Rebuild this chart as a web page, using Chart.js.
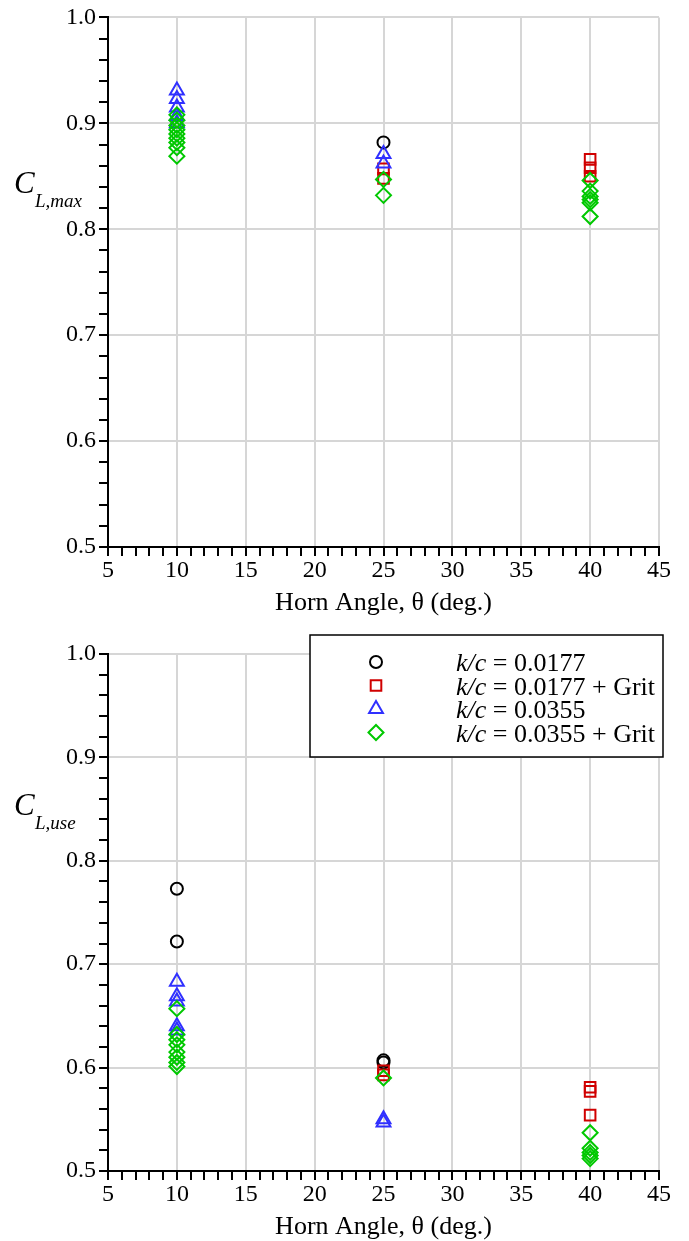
<!DOCTYPE html>
<html>
<head>
<meta charset="utf-8">
<script src="https://cdn.jsdelivr.net/npm/chart.js@4.4.0/dist/chart.umd.min.js"></script>
<style>
  body { margin: 0; background: #fff; }
  .box { position: absolute; left: 0; width: 689px; }
</style>
</head>
<body>
<div class="box" style="top:0;height:620px"><canvas id="chartMax" width="689" height="620"></canvas></div>
<div class="box" style="top:620px;height:621px"><canvas id="chartUse" width="689" height="621"></canvas></div>
<script>
// series labels (legend)
const seriesKc = ['0.0177', '0.0177 + Grit', '0.0355', '0.0355 + Grit'];
const seriesColors = ['#000000', '#d00000', '#3030ff', '#00c800'];
const seriesStyles = ['circle', 'rect', 'triangle', 'rectRot'];
const seriesRadius = [6, 7.5, 8, 7.5];

// x = horn angle (deg), y = coefficient
// C_L,max
const maxKc0177 = [[25, 0.882]];
const maxKc0177Grit = [[25, 0.857], [25, 0.848], [40, 0.866], [40, 0.858], [40, 0.850]];
const maxKc0355 = [[10, 0.931], [10, 0.923], [10, 0.915], [10, 0.907], [10, 0.900], [25, 0.871], [25, 0.862]];
const maxKc0355Grit = [[10, 0.908], [10, 0.903], [10, 0.898], [10, 0.894], [10, 0.890], [10, 0.886], [10, 0.882], [10, 0.877], [10, 0.869],
                       [25, 0.847], [25, 0.832], [40, 0.846], [40, 0.836], [40, 0.831], [40, 0.828], [40, 0.825], [40, 0.812]];
// C_L,use
const useKc0177 = [[10, 0.773], [10, 0.722], [25, 0.607], [25, 0.605]];
const useKc0177Grit = [[25, 0.597], [25, 0.593], [40, 0.581], [40, 0.577], [40, 0.554]];
const useKc0355 = [[10, 0.683], [10, 0.669], [10, 0.664], [10, 0.640], [10, 0.636], [25, 0.550], [25, 0.547]];
const useKc0355Grit = [[10, 0.657], [10, 0.632], [10, 0.627], [10, 0.622], [10, 0.615], [10, 0.610], [10, 0.605], [10, 0.601],
                       [25, 0.590], [40, 0.537], [40, 0.522], [40, 0.518], [40, 0.515], [40, 0.512]];

const xTitle = 'Horn Angle, θ (deg.)';
const FONT = 'Liberation Serif';

function makeDatasets(groups) {
  return groups.map(function(g, i) {
    return {
      label: 'k/c = ' + seriesKc[i],
      data: g.map(p => ({x: p[0], y: p[1]})),
      pointStyle: seriesStyles[i],
      pointRadius: seriesRadius[i],
      pointHoverRadius: seriesRadius[i],
      borderColor: seriesColors[i],
      backgroundColor: 'rgba(0,0,0,0)',
      pointBorderWidth: 2,
      showLine: false,
      clip: false,
      order: 4 - i
    };
  });
}

// draws the axis titles (with subscript) and the legend box
const decorPlugin = {
  id: 'decor',
  afterDraw(chart, args, opts) {
    const c = chart.ctx;
    const area = chart.chartArea;
    c.save();
    c.fillStyle = '#000';
    c.textBaseline = 'alphabetic';
    // x title
    c.font = '26px "' + FONT + '"';
    c.textAlign = 'center';
    c.fillText(xTitle, (area.left + area.right) / 2, area.bottom + 63);
    // y title C_{L,..}
    c.textAlign = 'left';
    c.font = 'italic 31px "' + FONT + '"';
    c.fillText('C', 14, opts.yTitleY);
    c.font = 'italic 19px "' + FONT + '"';
    c.fillText(opts.sub, 35, opts.yTitleY + 14);
    // legend
    if (opts.legend) {
      const L = opts.legend;
      c.fillStyle = '#fff';
      c.fillRect(L.x, L.y, L.w, L.h);
      c.strokeStyle = '#000';
      c.lineWidth = 1.5;
      c.strokeRect(L.x, L.y, L.w, L.h);
      for (let i = 0; i < seriesKc.length; i++) {
        const cy = L.y + 27 + i * 23.5;
        c.fillStyle = 'rgba(0,0,0,0)';
        c.strokeStyle = seriesColors[i];
        c.lineWidth = 2;
        Chart.helpers.drawPoint(c, {
          pointStyle: seriesStyles[i],
          radius: seriesRadius[i],
          borderWidth: 2,
          rotation: 0
        }, L.x + 66, cy);
        c.fillStyle = '#000';
        let tx = L.x + 146;
        const base = cy + 9;
        c.font = 'italic 26px "' + FONT + '"';
        c.fillText('k/c', tx, base);
        tx += c.measureText('k/c').width;
        c.font = '26px "' + FONT + '"';
        c.fillText(' = ' + seriesKc[i], tx, base);
      }
    }
    c.restore();
  }
};

function makeChart(id, groups, padTop, xHeight, yTitleY, sub, legend) {
  const ctx = document.getElementById(id).getContext('2d');
  return new Chart(ctx, {
    type: 'scatter',
    data: { datasets: makeDatasets(groups) },
    plugins: [decorPlugin],
    options: {
      responsive: false,
      animation: false,
      events: [],
      layout: { padding: { left: 0, right: 30, top: padTop, bottom: 0 } },
      plugins: {
        legend: { display: false },
        tooltip: { enabled: false },
        decor: { yTitleY: yTitleY, sub: sub, legend: legend }
      },
      scales: {
        x: {
          type: 'linear', min: 5, max: 45,
          ticks: {
            stepSize: 1, autoSkip: false, maxRotation: 0, padding: 0, color: '#000',
            font: { family: FONT, size: 24 },
            callback: v => (v % 5 === 0 ? v : '')
          },
          grid: {
            color: c => (c.tick && c.tick.value % 5 === 0 && c.tick.value > 5) ? '#d6d6d6' : 'rgba(0,0,0,0)',
            lineWidth: 2, tickColor: '#000', tickLength: 9, tickWidth: 2
          },
          border: { color: '#000', width: 2 },
          afterFit: s => { s.height = xHeight; }
        },
        y: {
          type: 'linear', min: 0.5, max: 1.0,
          ticks: {
            stepSize: 0.02, autoSkip: false, padding: 3, color: '#000',
            font: { family: FONT, size: 24 },
            callback: v => (Math.round(v * 100) % 10 === 0 ? v.toFixed(1) : '')
          },
          grid: {
            color: c => (c.tick && Math.round(c.tick.value * 100) % 10 === 0 && c.tick.value > 0.55) ? '#d6d6d6' : 'rgba(0,0,0,0)',
            lineWidth: 2, tickColor: '#000', tickLength: 9, tickWidth: 2
          },
          border: { color: '#000', width: 2 },
          afterFit: s => { s.width = 108; }
        }
      }
    }
  });
}

makeChart('chartMax', [maxKc0177, maxKc0177Grit, maxKc0355, maxKc0355Grit], 16, 73, 193, 'L,max', null);
makeChart('chartUse', [useKc0177, useKc0177Grit, useKc0355, useKc0355Grit], 34, 70, 195, 'L,use',
  { x: 310, y: 15, w: 353, h: 122 });
</script>
</body>
</html>
